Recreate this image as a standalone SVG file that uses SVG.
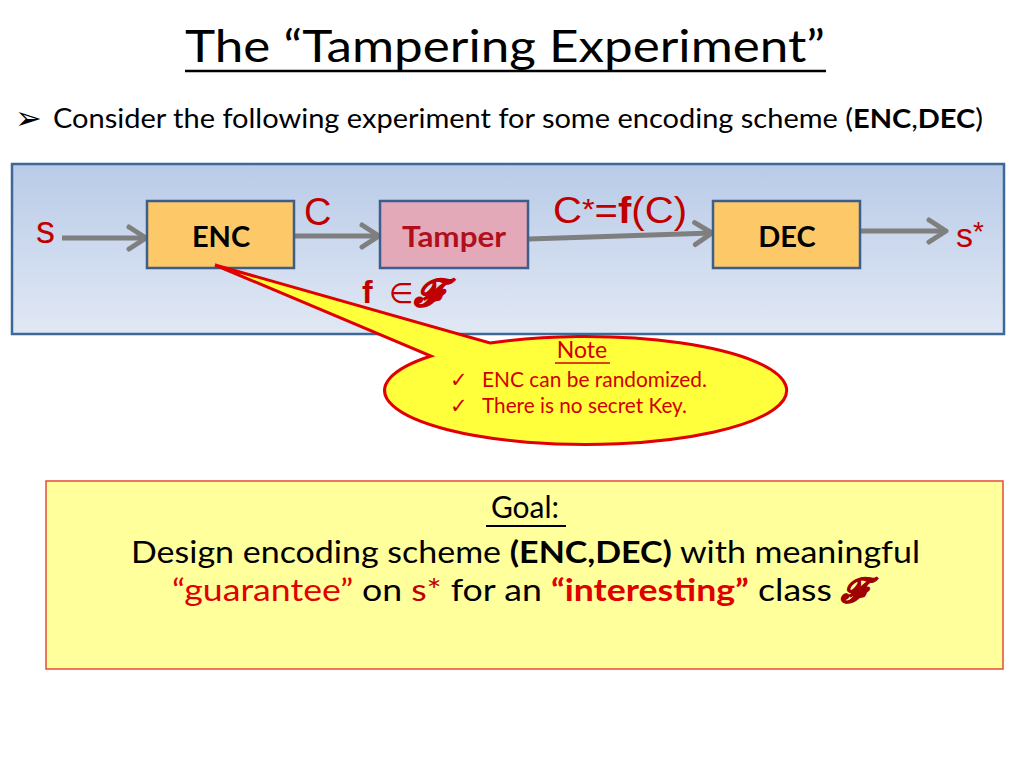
<svg xmlns="http://www.w3.org/2000/svg" width="1024" height="768" viewBox="0 0 1024 768">
<defs>
<linearGradient id="panelGrad" x1="0" y1="0" x2="0" y2="1">
<stop offset="0" stop-color="#b9cbe8"/>
<stop offset="1" stop-color="#e1e8f4"/>
</linearGradient>
<marker id="chev" markerUnits="userSpaceOnUse" markerWidth="26" markerHeight="30" viewBox="0 0 26 30" refX="21" refY="15" orient="auto">
<path d="M4,4 L21,15 L4,26" fill="none" stroke="#7f7f7f" stroke-width="5" stroke-linecap="round" stroke-linejoin="round"/>
</marker>
<style>
.cal{font-family:Lato,"Open Sans","Liberation Sans",sans-serif}
.ar{font-family:"Liberation Sans",Arial,sans-serif}
.box{stroke:#3b5e8c;stroke-width:2.5}
.boxlbl{font-family:Lato,"Open Sans","Liberation Sans",sans-serif;font-weight:bold;font-size:29px;text-anchor:middle}
.red{fill:#c00000}
.conn{stroke:#7f7f7f;stroke-width:5;fill:none;marker-end:url(#chev)}
.note{font-family:Lato,"Open Sans","Liberation Sans",sans-serif;font-size:21px;fill:#d00000}
.scr{font-family:"Liberation Serif",serif;font-weight:bold;font-style:italic}
</style>
</defs>
<rect width="1024" height="768" fill="#ffffff"/>

<g id="title">
<text x="505" y="62" class="cal" font-size="44" text-anchor="middle" fill="#000" textLength="640" lengthAdjust="spacingAndGlyphs">The “Tampering Experiment”</text>
<line x1="185" y1="71" x2="826" y2="71" stroke="#000" stroke-width="2.5"/>
</g>

<g id="bullet">
<text x="15" y="129" font-family="'DejaVu Sans',sans-serif" font-size="32" font-weight="bold" fill="#000">➢</text>
<text x="53" y="128" class="cal" font-size="26" fill="#000" textLength="930" lengthAdjust="spacingAndGlyphs">Consider the following experiment for some encoding scheme  (<tspan font-weight="bold">ENC</tspan>,<tspan font-weight="bold">DEC</tspan>)</text>
</g>

<g id="panel">
<rect x="12" y="164" width="992" height="170" fill="url(#panelGrad)" stroke="#3d6898" stroke-width="2.5"/>
</g>

<g id="connectors">
<line class="conn" x1="62" y1="238" x2="146" y2="238"/>
<line class="conn" x1="294" y1="236" x2="379" y2="236"/>
<line class="conn" x1="529" y1="239" x2="712" y2="233"/>
<line class="conn" x1="860" y1="231" x2="946" y2="231"/>
</g>

<g id="enc">
<rect class="box" x="147" y="201" width="147" height="67" fill="#fdc968"/>
<text class="boxlbl" x="221" y="247" fill="#000">ENC</text>
</g>

<g id="tamper">
<rect class="box" x="380" y="201" width="148" height="67" fill="#e4a9b8"/>
<text class="boxlbl" x="454" y="247" fill="#b0101c" textLength="104" lengthAdjust="spacingAndGlyphs">Tamper</text>
</g>

<g id="dec">
<rect class="box" x="713" y="201" width="147" height="67" fill="#fdc968"/>
<text class="boxlbl" x="787" y="247" fill="#000">DEC</text>
</g>

<g id="labels">
<text x="36" y="243" class="ar red" font-size="38">s</text>
<text x="304" y="225" class="ar red" font-size="38">C</text>
<text x="553" y="223" class="ar red" font-size="37" textLength="134" lengthAdjust="spacingAndGlyphs">C<tspan font-size="30" dy="-4">*</tspan><tspan dy="4">=</tspan><tspan font-weight="bold">f</tspan>(C)</text>
<text x="956" y="247" class="ar red" font-size="34">s<tspan font-size="28" dy="-6">*</tspan></text>
<text x="362" y="303" class="ar red" font-size="32" font-weight="bold">f</text>
<text x="389" y="303" font-family="'DejaVu Sans',sans-serif" font-size="28" fill="#c00000">∈</text>
<text x="414" y="306" class="scr" font-size="38" fill="#c00000" stroke="#c00000" stroke-width="1">𝓕</text>
</g>

<g id="callout">
<path d="M215,265 L490,343 A201,54 0 1 1 431,356 Z" fill="#ffff3c" stroke="#e00000" stroke-width="3" stroke-linejoin="miter"/>
<text x="582" y="358" class="cal" font-size="23" fill="#d00000" text-anchor="middle">Note</text>
<line x1="555" y1="363" x2="610" y2="363" stroke="#d00000" stroke-width="1.5"/>
<text x="450" y="387" class="note" font-size="18">✓</text>
<text x="482" y="387" class="note" textLength="225" lengthAdjust="spacingAndGlyphs">ENC can be randomized.</text>
<text x="450" y="413" class="note" font-size="18">✓</text>
<text x="482" y="413" class="note" textLength="205" lengthAdjust="spacingAndGlyphs">There is no secret Key.</text>
</g>

<g id="goal">
<rect x="46" y="481" width="957" height="188" fill="#ffff9c" stroke="#e8483a" stroke-width="1.5"/>
<text x="525" y="518" class="cal" font-size="30" text-anchor="middle" fill="#000">Goal:</text>
<line x1="486" y1="526" x2="566" y2="526" stroke="#000" stroke-width="2"/>
<text x="131" y="563" class="cal" font-size="30" fill="#000" textLength="789" lengthAdjust="spacingAndGlyphs">Design encoding scheme <tspan font-weight="bold">(ENC,DEC)</tspan> with meaningful</text>
<text x="172" y="601" class="cal" font-size="30" fill="#000" textLength="660" lengthAdjust="spacingAndGlyphs"><tspan fill="#e00000">“guarantee”</tspan> on <tspan fill="#c00000">s*</tspan> for an <tspan fill="#e00000" font-weight="bold">“interesting”</tspan>  class</text>
<text x="841" y="602" class="scr" font-size="34" fill="#a00000" stroke="#a00000" stroke-width="1">𝓕</text>
</g>
</svg>
